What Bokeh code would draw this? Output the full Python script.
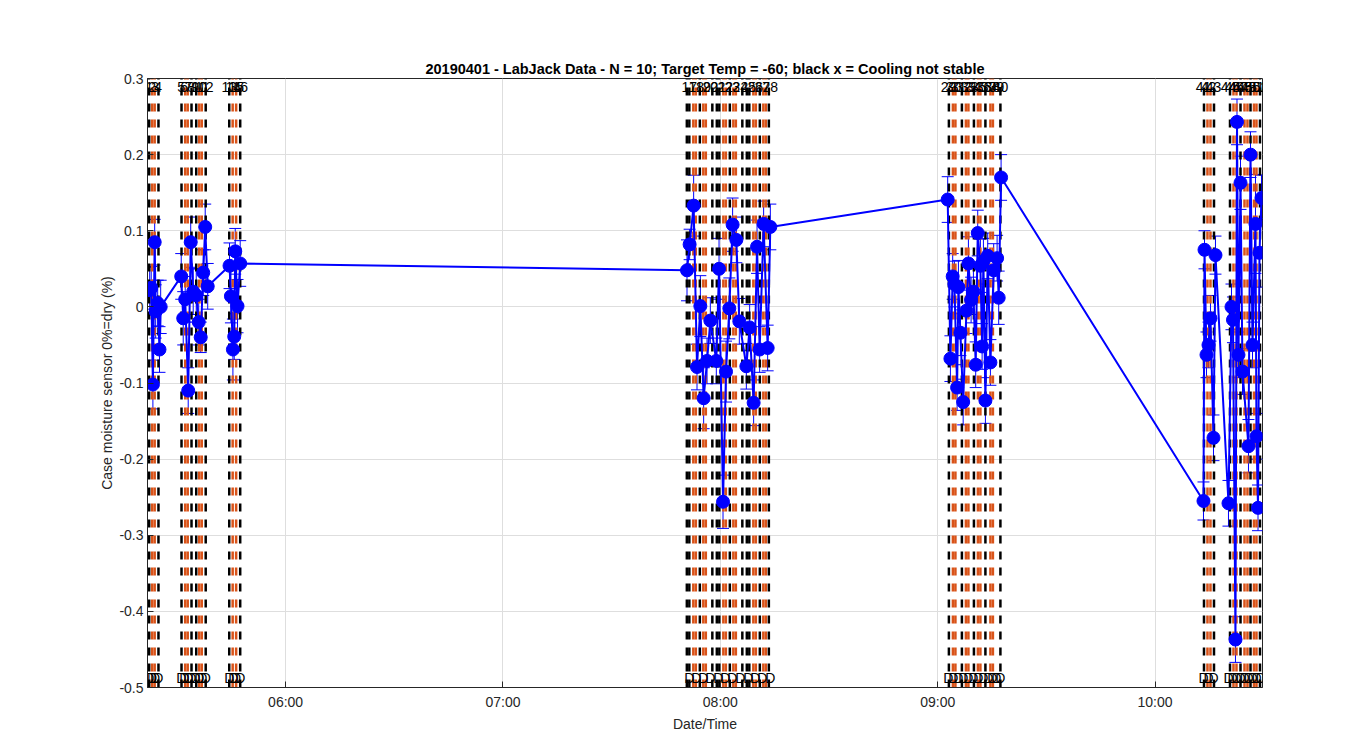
import pandas as pd
from bokeh.plotting import figure
from bokeh.models import (ColumnDataSource, Range1d, FixedTicker, DatetimeTickFormatter,
                          Whisker, TeeHead)
from bokeh.embed import file_html
from bokeh.resources import INLINE
from bokeh.core.properties import value

# ---------------- data (time in minutes after 05:00) ----------------
c1_t = [22.47, 22.89, 23.36, 23.85, 24.13, 24.68, 25.18, 25.51]
c1_v = [0.022, 0.025, -0.102, 0.085, -0.006, 0.005, -0.056, 0.0]
c1_e = [0.03, 0.028, 0.032, 0.03, 0.035, 0.03, 0.03, 0.035]

c2_t = [31.18, 31.73, 32.28, 33.11, 33.80, 34.49, 35.32, 36.01, 36.56, 37.25, 37.80, 38.49]
c2_v = [0.04, -0.015, 0.01, -0.11, 0.085, 0.02, 0.015, -0.02, -0.04, 0.045, 0.105, 0.027]
c2_e = [0.03, 0.035, 0.03, 0.03, 0.033, 0.03, 0.035, 0.03, 0.02, 0.03, 0.03, 0.03]

c3_t = [44.51, 44.90, 45.45, 45.81, 46.09, 46.72, 47.46]
c3_v = [0.054, 0.014, -0.056, -0.039, 0.073, 0.001, 0.057]
c3_e = [0.03, 0.035, 0.04, 0.03, 0.03, 0.035, 0.03]

c4_t = [170.80, 171.52, 172.63, 173.56, 174.48, 175.39, 176.33, 177.24, 178.89, 179.64,
        180.74, 181.57, 182.48, 183.39, 184.42, 185.24, 187.18, 188.09, 189.19, 190.13,
        190.85, 191.95, 193.06, 193.80]
c4_v = [0.048, 0.082, 0.133, -0.079, 0.001, -0.120, -0.071, -0.018, -0.071, 0.050,
        -0.256, -0.085, -0.002, 0.108, 0.088, -0.019, -0.078, -0.027, -0.126, 0.079,
        -0.056, 0.109, -0.054, 0.105]
c4_e = [0.04, 0.02, 0.04, 0.03, 0.04, 0.04, 0.03, 0.03, 0.03, 0.04,
        0.035, 0.04, 0.04, 0.035, 0.03, 0.03, 0.03, 0.03, 0.03, 0.035,
        0.03, 0.03, 0.03, 0.03]

c5_t = [242.76, 243.51, 244.14, 244.61, 245.36, 245.72, 246.27, 247.03, 247.93, 248.48,
        249.22, 249.86, 250.49, 251.05, 251.79, 252.26, 252.62, 253.17, 253.81, 254.55,
        255.46, 256.40, 256.84, 257.50]
c5_v = [0.141, -0.068, 0.04, 0.03, -0.106, 0.026, -0.034, -0.125, -0.005, 0.057,
        0.009, 0.02, -0.076, 0.097, 0.054, -0.052, 0.06, -0.123, 0.067, -0.073,
        0.048, 0.064, 0.012, 0.17]
c5_e = [0.03, 0.03, 0.03, 0.03, 0.03, 0.035, 0.03, 0.03, 0.03, 0.035,
        0.03, 0.03, 0.03, 0.03, 0.035, 0.03, 0.03, 0.03, 0.03, 0.03,
        0.035, 0.03, 0.035, 0.03]

c6_t = [313.37, 313.65, 314.20, 314.75, 315.30, 316.13, 316.68, 320.27, 321.10, 321.51,
        322.20, 322.62, 323.03, 323.59, 324.14, 325.79, 326.35, 326.90, 327.72, 328.00,
        328.42, 328.83, 329.38]
c6_v = [-0.255, 0.075, -0.063, -0.05, -0.015, -0.172, 0.068, -0.258, 0.0, -0.017,
        -0.437, 0.243, -0.063, 0.163, -0.085, -0.183, 0.2, -0.05, 0.109, -0.17,
        -0.264, 0.071, 0.143]
c6_e = [0.025, 0.025, 0.03, 0.03, 0.03, 0.03, 0.025, 0.03, 0.03, 0.03,
        0.03, 0.03, 0.03, 0.035, 0.03, 0.035, 0.03, 0.03, 0.065, 0.03,
        0.03, 0.045, 0.03]

# event marker lines (minutes after 05:00)
black_lines = [22.34, 24.90, 31.26, 34.02, 35.32, 37.94, 44.43, 47.46,
               170.75, 171.44, 174.34, 177.79, 179.03, 179.72, 182.62, 186.07,
               187.31, 188.00, 190.90, 193.39,
               243.09, 246.68, 250.00, 253.17, 257.31,
               313.51, 316.27, 320.69, 323.59, 326.35, 328.97]
orange_lines = [23.16, 23.85, 32.28, 32.97, 36.15, 36.84, 45.38, 46.34,
                172.54, 173.23, 175.30, 175.99, 180.83, 181.52, 183.59, 184.28,
                189.11, 189.80, 191.87, 192.56,
                244.20, 244.89, 247.79, 248.48, 251.10, 251.79, 254.55, 255.24,
                314.47, 315.30, 321.65, 322.48, 324.69, 325.51, 327.31, 328.00]

# event labels (numbers on top, "D" at the bottom)
event_t = [22.34, 23.16, 23.99, 24.82,
           31.18, 32.00, 33.11, 33.94, 35.04, 36.15, 36.97, 37.94,
           44.43, 45.53, 46.34, 47.46,
           171.44, 173.37, 175.30, 177.24, 179.44, 181.38, 183.31, 185.52, 187.73, 189.66,
           191.59, 193.80,
           242.96, 244.34, 245.72, 247.10, 248.48, 249.86, 251.24, 252.62, 254.00, 255.10,
           256.21, 257.31,
           313.37, 314.75, 316.13, 320.27, 321.38, 322.48, 323.59, 324.69, 325.79, 326.90,
           328.00, 329.10]
event_ids = [str(i) for i in range(1, 53)]
event_flag = ["D"] * 52

x_limits = [21.87, 329.66]
y_ticks = [-0.5, -0.4, -0.3, -0.2, -0.1, 0, 0.1, 0.2, 0.3]
y_tick_labels = ["-0.5", "-0.4", "-0.3", "-0.2", "-0.1", "0", "0.1", "0.2", "0.3"]
x_tick_minutes = [60, 120, 180, 240, 300]

BASE = pd.Timestamp("2019-04-01 05:00:00")


def to_time(mins):
    return [BASE + pd.Timedelta(minutes=m) for m in mins]


def to_ms(mins):
    return [(BASE + pd.Timedelta(minutes=m)).value / 1e6 for m in mins]


t_all = c1_t + c2_t + c3_t + c4_t + c5_t + c6_t
v_all = c1_v + c2_v + c3_v + c4_v + c5_v + c6_v
e_all = c1_e + c2_e + c3_e + c4_e + c5_e + c6_e

src = ColumnDataSource(dict(
    t=to_time(t_all), v=v_all,
    up=[a + b for a, b in zip(v_all, e_all)],
    lo=[a - b for a, b in zip(v_all, e_all)],
))

FONT = "Liberation Sans"
AX = "#262626"

xr = to_time(x_limits)
p = figure(width=1334, height=734, x_axis_type="datetime",
           x_range=Range1d(xr[0], xr[1]), y_range=Range1d(-0.5, 0.3),
           output_backend="svg", toolbar_location=None,
           min_border_left=147, min_border_right=72, min_border_top=78, min_border_bottom=45)

p.title.text = "20190401 - LabJack Data - N = 10; Target Temp = -60; black x = Cooling not stable"
p.title.align = "center"
p.title.text_font = FONT
p.title.text_font_size = "14.5px"
p.title.text_font_style = "bold"
p.title.text_color = "black"
p.title.standoff = 3

p.outline_line_color = AX
p.outline_line_alpha = 1
p.background_fill_color = "white"
p.border_fill_color = "white"

# axes
p.xaxis.ticker = FixedTicker(ticks=to_ms(x_tick_minutes))
p.xaxis.formatter = DatetimeTickFormatter(hours="%H:%M", minutes="%H:%M", hourmin="%H:%M",
                                          days="%H:%M", minsec="%H:%M", seconds="%H:%M")
p.xaxis.axis_label = "Date/Time"
p.yaxis.ticker = FixedTicker(ticks=y_ticks)
p.yaxis.major_label_overrides = {k: s for k, s in zip(y_ticks, y_tick_labels)}
p.yaxis.axis_label = "Case moisture sensor 0%=dry (%)"

for ax in [p.xaxis[0], p.yaxis[0]]:
    ax.axis_line_color = AX
    ax.major_tick_line_color = AX
    ax.major_tick_in = 6
    ax.major_tick_out = 0
    ax.minor_tick_line_color = None
    ax.major_label_text_font = FONT
    ax.major_label_text_font_size = "14px"
    ax.major_label_text_color = AX
    ax.axis_label_text_font = FONT
    ax.axis_label_text_font_size = "14px"
    ax.axis_label_text_font_style = "normal"
    ax.axis_label_text_color = AX
p.xaxis.major_label_standoff = 6
p.xaxis.axis_label_standoff = 3
p.yaxis.major_label_standoff = 4
p.yaxis.axis_label_standoff = 1

p.xgrid.grid_line_color = "#dedede"
p.ygrid.grid_line_color = "#dedede"
p.xgrid.ticker = FixedTicker(ticks=to_ms(x_tick_minutes))
p.ygrid.ticker = FixedTicker(ticks=y_ticks)

# vertical event lines
bl = to_time(black_lines)
p.segment(x0=bl, y0=[-0.5] * len(bl), x1=bl, y1=[0.3] * len(bl),
          line_color="black", line_width=2.5, line_dash="8 8")
ol = to_time(orange_lines)
p.segment(x0=ol, y0=[-0.5] * len(ol), x1=ol, y1=[0.3] * len(ol),
          line_color="#D95319", line_width=2.5, line_dash="8 8")

et = to_time(event_t)
p.text(x=et, y=[0.3] * len(et), text=event_ids, text_align="center", text_baseline="top",
       y_offset=3, text_font=value(FONT), text_font_size="14px", text_color="black")
p.text(x=et, y=[-0.5] * len(et), text=event_flag, text_align="center", text_baseline="bottom",
       y_offset=-2, text_font=value(FONT), text_font_size="14px", text_color="black")

# data
p.add_layout(Whisker(source=src, base="t", upper="up", lower="lo",
                     line_color="blue", line_width=1,
                     upper_head=TeeHead(size=12, line_color="blue", line_width=1),
                     lower_head=TeeHead(size=12, line_color="blue", line_width=1)))
p.line("t", "v", source=src, line_color="blue", line_width=2)
p.scatter("t", "v", source=src, size=13, fill_color="blue", line_color="blue")

open("out.html", "w").write(file_html(p, INLINE))
